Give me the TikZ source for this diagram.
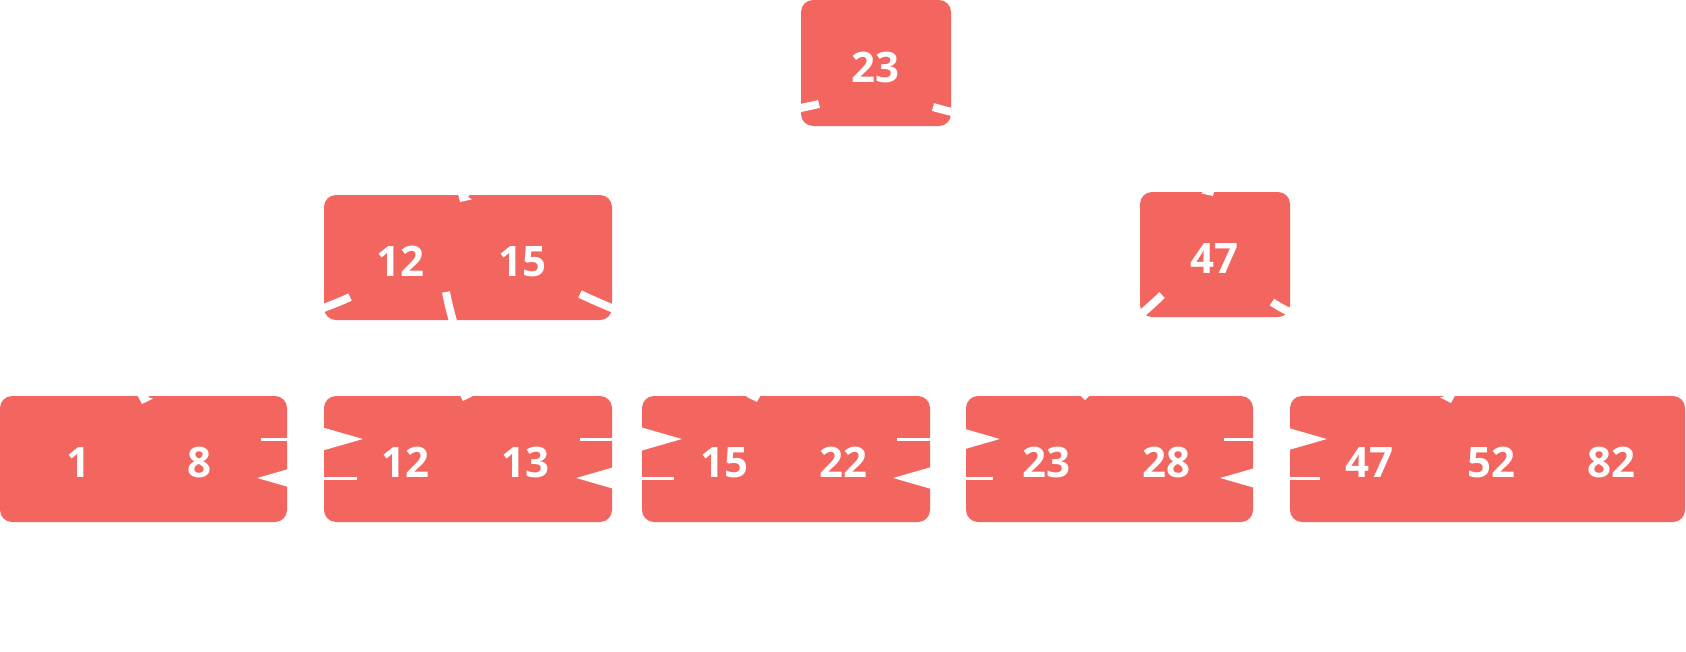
\documentclass[tikz,border=0pt]{standalone}
\usepackage{fontspec}
\setmainfont{Open Sans}
\usetikzlibrary{arrows.meta}
\definecolor{boxred}{RGB}{243,102,95}
\begin{document}
\begin{tikzpicture}[x=1pt,y=-1pt,
  box/.style={fill=boxred, draw=none, rounded corners=12pt, inner sep=0pt, outer sep=0pt},
  key/.style={text=white, font=\fontsize{42}{42}\selectfont\bfseries, anchor=base, inner sep=0pt},
  treeedge/.style={draw=white, line width=8pt, -{Triangle[angle=90:12pt]}},
  leafarrow/.style={draw=white, line width=3pt, -{Triangle[length=45pt,width=25pt]}}]
\useasboundingbox (0,0) rectangle (1686,651);

% boxes
\node[box, minimum width=150pt, minimum height=126pt] (root) at (876,63) {};
\node[box, minimum width=288pt, minimum height=125pt] (inL) at (468,257.5) {};
\node[box, minimum width=150pt, minimum height=125pt] (inR) at (1215,254.5) {};
\node[box, minimum width=287pt, minimum height=126pt] (lf1) at (143.5,459) {};
\node[box, minimum width=288pt, minimum height=126pt] (lf2) at (468,459) {};
\node[box, minimum width=288pt, minimum height=126pt] (lf3) at (786,459) {};
\node[box, minimum width=287pt, minimum height=126pt] (lf4) at (1109.5,459) {};
\node[box, minimum width=395pt, minimum height=126pt] (lf5) at (1487.5,459) {};

% edge end points
\coordinate (sRL) at (819,104);   \coordinate (tRL) at (460,202);
\coordinate (sRR) at (933,107);   \coordinate (tRR) at (1213,196);
\coordinate (sLa) at (350,297);   \coordinate (tLa) at (142,404);
\coordinate (sLb) at (446,292);   \coordinate (tLb) at (463,401);
\coordinate (sLc) at (580,294);   \coordinate (tLc) at (757,402);
\coordinate (sRa) at (1162,295);  \coordinate (tRa) at (1085,400);
\coordinate (sRb) at (1272,302);  \coordinate (tRb) at (1451,403);

% tree edges
\draw[treeedge] (sRL) .. controls (741,122) and (486,160) .. (tRL);
\draw[treeedge] (sRR) .. controls (1010,129) and (1187,154) .. (tRR);
\draw[treeedge] (sLa) .. controls (305,319) and (157,357) .. (tLa);
\draw[treeedge] (sLb) .. controls (453,330) and (472,372) .. (tLb);
\draw[treeedge] (sLc) .. controls (625,316) and (742,355) .. (tLc);
\draw[treeedge] (sRa) .. controls (1134,323) and (1085,355) .. (tRa);
\draw[treeedge] (sRb) .. controls (1313,331) and (1436,355) .. (tRb);

% leaf links
\coordinate (u1s) at (261,439);  \coordinate (u1e) at (363,439);
\coordinate (d1s) at (357,478);  \coordinate (d1e) at (257,478);
\coordinate (u2s) at (580,439);  \coordinate (u2e) at (682,439);
\coordinate (d2s) at (674,478);  \coordinate (d2e) at (576,478);
\coordinate (u3s) at (897,439);  \coordinate (u3e) at (1000,439);
\coordinate (d3s) at (993,478);  \coordinate (d3e) at (893,478);
\coordinate (u4s) at (1224,439); \coordinate (u4e) at (1327,439);
\coordinate (d4s) at (1320,478); \coordinate (d4e) at (1220,478);
\draw[leafarrow] (u1s) -- (u1e);
\draw[leafarrow] (d1s) -- (d1e);
\draw[leafarrow] (u2s) -- (u2e);
\draw[leafarrow] (d2s) -- (d2e);
\draw[leafarrow] (u3s) -- (u3e);
\draw[leafarrow] (d3s) -- (d3e);
\draw[leafarrow] (u4s) -- (u4e);
\draw[leafarrow] (d4s) -- (d4e);

% keys
\node[key] (k0) at (875,82) {23};
\node[key] (kL1) at (400,276) {12};
\node[key] (kL2) at (522,276) {15};
\node[key] (kR1) at (1214,273) {47};
\node[key] (a1) at (78,477) {1};
\node[key] (a2) at (199,477) {8};
\node[key] (b1) at (405,477) {12};
\node[key] (b2) at (525,477) {13};
\node[key] (c1) at (724,477) {15};
\node[key] (c2) at (843,477) {22};
\node[key] (d1) at (1046,477) {23};
\node[key] (d2) at (1166,477) {28};
\node[key] (e1) at (1369,477) {47};
\node[key] (e2) at (1491,477) {52};
\node[key] (e3) at (1611,477) {82};
\end{tikzpicture}
\end{document}
